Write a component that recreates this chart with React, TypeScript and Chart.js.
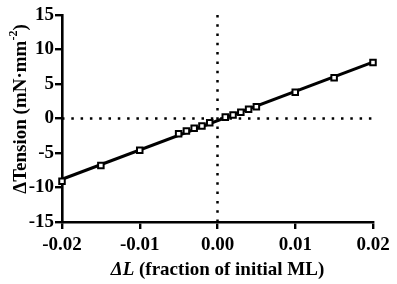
import React, { useEffect, useRef } from "react";
import { Chart, registerables } from "chart.js";

Chart.register(...registerables);

// ---- data ----
const strainValues = [
  -0.02, -0.015, -0.01, -0.005, -0.004, -0.003, -0.002, -0.001,
  0.001, 0.002, 0.003, 0.004, 0.005, 0.01, 0.015, 0.02,
];
const tensionValues = [
  -9.1, -6.8, -4.6, -2.2, -1.8, -1.4, -1.1, -0.6,
  0.2, 0.5, 0.9, 1.35, 1.7, 3.8, 5.9, 8.1,
];
const xTickValues = [-0.02, -0.01, 0, 0.01, 0.02];
const yTickValues = [-15, -10, -5, 0, 5, 10, 15];
const xTitleItalic = "ΔL";
const xTitleRest = " (fraction of initial ML)";
const yTitleMain = "ΔTension (mN·mm";
const yTitleSup = "-2";
const yTitleEnd = ")";

const FONT = '"Liberation Serif", "Times New Roman", serif';

function linearFit(xs: number[], ys: number[]) {
  const n = xs.length;
  const mx = xs.reduce((a, b) => a + b, 0) / n;
  const my = ys.reduce((a, b) => a + b, 0) / n;
  let sxy = 0;
  let sxx = 0;
  for (let i = 0; i < n; i++) {
    sxy += (xs[i] - mx) * (ys[i] - my);
    sxx += (xs[i] - mx) * (xs[i] - mx);
  }
  const slope = sxy / sxx;
  return { slope, intercept: my - slope * mx };
}

const titlePlugin = {
  id: "customTitles",
  afterDraw(chart: any) {
    const ctx = chart.ctx as CanvasRenderingContext2D;
    const area = chart.chartArea;
    ctx.save();
    ctx.fillStyle = "#000";
    ctx.textBaseline = "middle";
    ctx.textAlign = "left";

    // x title
    const xParts = [
      { t: xTitleItalic, font: `italic bold 19px ${FONT}` },
      { t: xTitleRest, font: `bold 19px ${FONT}` },
    ];
    let total = 0;
    const widths: number[] = [];
    xParts.forEach((p) => {
      ctx.font = p.font;
      const w = ctx.measureText(p.t).width;
      widths.push(w);
      total += w;
    });
    let x = (area.left + area.right) / 2 - total / 2;
    xParts.forEach((p, i) => {
      ctx.font = p.font;
      ctx.fillText(p.t, x, 270);
      x += widths[i];
    });

    // y title (rotated)
    const yParts = [
      { t: yTitleMain, font: `bold 19px ${FONT}`, dy: 0 },
      { t: yTitleSup, font: `bold 12px ${FONT}`, dy: -7 },
      { t: yTitleEnd, font: `bold 19px ${FONT}`, dy: 0 },
    ];
    total = 0;
    const yw: number[] = [];
    yParts.forEach((p) => {
      ctx.font = p.font;
      const w = ctx.measureText(p.t).width;
      yw.push(w);
      total += w;
    });
    ctx.translate(21, 109);
    ctx.rotate(-Math.PI / 2);
    let px = -total / 2;
    yParts.forEach((p, i) => {
      ctx.font = p.font;
      ctx.fillText(p.t, px, p.dy);
      px += yw[i];
    });
    ctx.restore();
  },
};

export default function App() {
  const canvasRef = useRef<HTMLCanvasElement | null>(null);

  useEffect(() => {
    document.body.style.margin = "0";
    const canvas = canvasRef.current;
    if (!canvas) return;

    const fit = linearFit(strainValues, tensionValues);
    const xMin = xTickValues[0];
    const xMax = xTickValues[xTickValues.length - 1];
    const yMin = yTickValues[0];
    const yMax = yTickValues[yTickValues.length - 1];

    const points = strainValues.map((v, i) => ({ x: v, y: tensionValues[i] }));
    const fitLine = [
      { x: xMin, y: fit.slope * xMin + fit.intercept },
      { x: xMax, y: fit.slope * xMax + fit.intercept },
    ];

    const chart = new Chart(canvas, {
      type: "scatter",
      data: {
        datasets: [
          {
            type: "line",
            data: [
              { x: xMin, y: 0 },
              { x: xMax, y: 0 },
            ],
            borderColor: "#000",
            borderWidth: 2.5,
            borderDash: [2.5, 6.8],
            pointRadius: 0,
            clip: false,
            order: 5,
          } as any,
          {
            type: "line",
            data: [
              { x: 0, y: yMin },
              { x: 0, y: yMax },
            ],
            borderColor: "#000",
            borderWidth: 2.5,
            borderDash: [2.5, 6.8],
            pointRadius: 0,
            clip: false,
            order: 5,
          } as any,
          {
            type: "line",
            data: fitLine,
            borderColor: "#000",
            borderWidth: 3,
            pointRadius: 0,
            clip: false,
            order: 3,
          } as any,
          {
            data: points,
            pointStyle: "rect",
            pointRadius: 3.9,
            pointBorderWidth: 2,
            pointBorderColor: "#000",
            pointBackgroundColor: "#fff",
            clip: false,
            order: 1,
          } as any,
        ],
      },
      options: {
        animation: false,
        responsive: false,
        devicePixelRatio: 1,
        layout: { padding: { top: 15, right: 24, left: 0, bottom: 0 } },
        plugins: {
          legend: { display: false },
          tooltip: { enabled: false },
        },
        scales: {
          x: {
            type: "linear",
            min: xMin,
            max: xMax,
            afterBuildTicks: (scale: any) => {
              scale.ticks = xTickValues.map((v) => ({ value: v }));
            },
            afterFit: (scale: any) => {
              scale.height = 62;
            },
            grid: {
              display: true,
              drawOnChartArea: false,
              drawTicks: true,
              tickLength: 7,
              color: "#000",
              lineWidth: 2.4,
            },
            border: { display: true, color: "#000", width: 2.6 },
            ticks: {
              color: "#000",
              padding: 5,
              maxRotation: 0,
              font: { family: FONT, size: 19, weight: "bold" },
              callback: (v: any) => Number(v).toFixed(2),
            },
          },
          y: {
            type: "linear",
            min: yMin,
            max: yMax,
            afterBuildTicks: (scale: any) => {
              scale.ticks = yTickValues.map((v) => ({ value: v }));
            },
            afterFit: (scale: any) => {
              scale.width = 62;
            },
            grid: {
              display: true,
              drawOnChartArea: false,
              drawTicks: true,
              tickLength: 7,
              color: "#000",
              lineWidth: 2.4,
            },
            border: { display: true, color: "#000", width: 2.6 },
            ticks: {
              color: "#000",
              padding: 1,
              font: { family: FONT, size: 19, weight: "bold" },
              callback: (v: any) => String(v),
            },
          },
        },
      },
      plugins: [titlePlugin],
    } as any);

    return () => chart.destroy();
  }, []);

  return (
    <div style={{ position: "absolute", left: 0, top: 0, width: 397, height: 284 }}>
      <canvas ref={canvasRef} width={397} height={284} style={{ width: 397, height: 284 }} />
    </div>
  );
}
